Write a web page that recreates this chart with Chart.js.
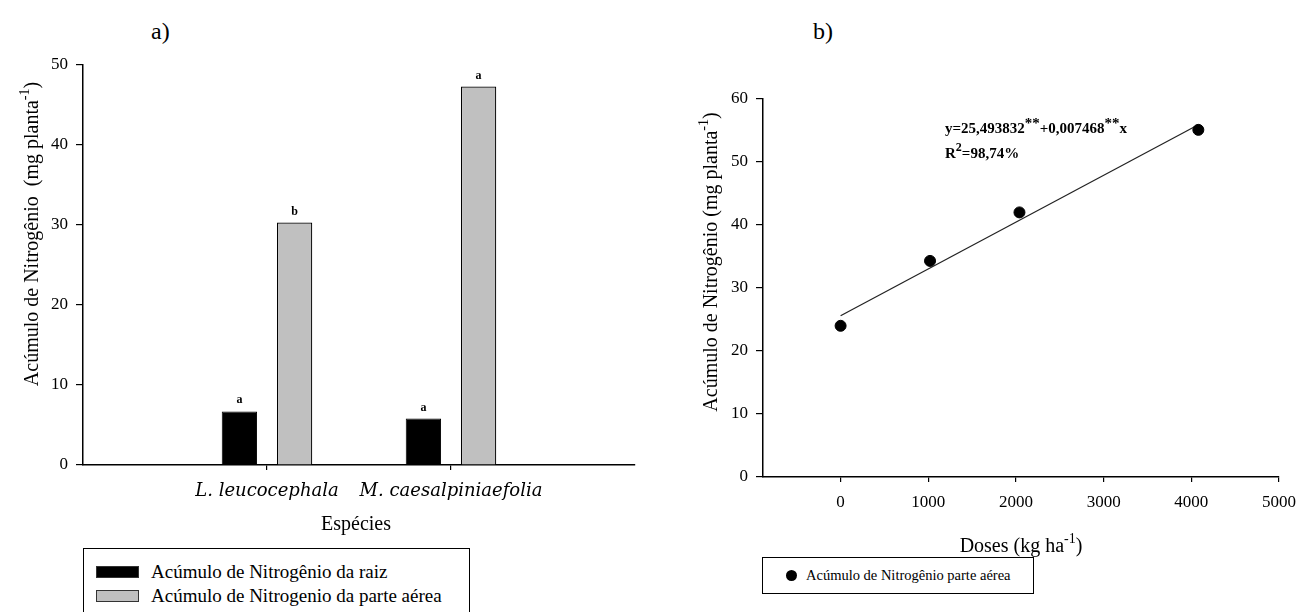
<!DOCTYPE html>
<html>
<head>
<meta charset="utf-8">
<title>Acúmulo de Nitrogênio</title>
<script src="https://cdn.jsdelivr.net/npm/chart.js@4/dist/chart.umd.min.js"></script>
<style>
  html, body { margin: 0; padding: 0; background: #fff; }
  body { width: 1306px; height: 612px; position: relative; overflow: hidden;
         font-family: 'Liberation Serif', 'Times New Roman', serif; color: #000; }
  canvas { position: absolute; top: 0; }
  #chartA { left: 0; }
  #chartB { left: 650px; }
  .panel { position: absolute; top: 16px; font-size: 24px; line-height: 30px; }
  .legend { position: absolute; border: 1.5px solid #000; background: #fff; box-sizing: border-box; }
  .legend .row { display: flex; align-items: center; white-space: nowrap; }
  #legendA { left: 83px; top: 548px; width: 387px; height: 80px; padding: 11px 0 0 12px; font-size: 19px; }
  #legendA .row { height: 24px; }
  #legendA .sw { width: 43px; height: 12px; box-sizing: border-box; margin-right: 12px; }
  #legendB { left: 762px; top: 557px; width: 272px; height: 37px; padding: 0 0 0 23px; font-size: 14.5px; }
  #legendB .row { height: 34px; }
  #legendB .dot { width: 11px; height: 11px; border-radius: 50%; margin-right: 9px; }
</style>
</head>
<body>
<div class="panel" style="left:151px">a)</div>
<div class="panel" style="left:813px">b)</div>
<canvas id="chartA" width="650" height="612"></canvas>
<canvas id="chartB" width="656" height="612"></canvas>
<div class="legend" id="legendA"></div>
<div class="legend" id="legendB"></div>

<script>
// --- a) species ---
const species = ['L. leucocephala', 'M. caesalpiniaefolia'];
const rootN = [6.7, 5.8];
const shootN = [30.3, 47.3];
const rootLetters = ['a', 'a'];
const shootLetters = ['b', 'a'];
const yTicksA = [0, 10, 20, 30, 40, 50];

// --- b) doses ---
const doses = [0, 1020, 2040, 4080];
const shootDose = [24.0, 34.3, 42.0, 55.1];
const trendX = [0, 4080];
const trendY = [25.6, 55.9];
const doseTicks = [0, 1000, 2000, 3000, 4000, 5000];
const yTicksB = [0, 10, 20, 30, 40, 50, 60];

const SERIF = '"Liberation Serif", "Times New Roman", serif';

// draws text made of parts, some raised as superscript; y is the baseline
function drawRich(ctx, parts, x, y, size, weight, align) {
  const sizeOf = p => p.scale ? size * p.scale : (p.sup ? Math.round(size * 0.68) : size);
  const fontFor = p => `${weight} ${sizeOf(p)}px ${SERIF}`;
  let w = 0;
  parts.forEach(p => { ctx.font = fontFor(p); w += ctx.measureText(p.t).width; });
  let cx = align === 'center' ? x - w / 2 : x;
  ctx.textAlign = 'left';
  ctx.textBaseline = 'alphabetic';
  parts.forEach(p => {
    ctx.font = fontFor(p);
    const rise = p.rise !== undefined ? p.rise : (p.sup ? size * 0.45 : 0);
    ctx.fillText(p.t, cx, y - rise);
    cx += ctx.measureText(p.t).width;
  });
}

function tickList(values) {
  return scale => { scale.ticks = values.map(v => ({ value: v })); };
}

const axisStyle = {
  border: { color: '#000', width: 1.5 },
  grid: { drawOnChartArea: false, tickLength: 7, tickColor: '#000', lineWidth: 1.2 },
  ticks: { color: '#000', font: { family: SERIF, size: 17 }, padding: 8, callback: v => String(v) }
};

// --- chart a) ---
const barLetters = [[null, ...rootLetters, null], [null, ...shootLetters, null]];

const textA = {
  id: 'textA',
  afterDraw(chart) {
    const ctx = chart.ctx;
    const area = chart.chartArea;
    ctx.save();
    ctx.fillStyle = '#000';
    // significance letters above bars
    ctx.font = `bold 12px ${SERIF}`;
    ctx.textAlign = 'center';
    ctx.textBaseline = 'alphabetic';
    chart.data.datasets.forEach((ds, i) => {
      chart.getDatasetMeta(i).data.forEach((bar, j) => {
        const t = barLetters[i][j];
        if (t) ctx.fillText(t, bar.x, bar.y - 8);
      });
    });
    // axis titles
    drawRich(ctx, [{ t: 'Espécies' }], (area.left + area.right) / 2 - 3, 530, 20, 'normal', 'center');
    ctx.translate(38, 234);
    ctx.rotate(-Math.PI / 2);
    drawRich(ctx, [{ t: 'Acúmulo de Nitrogênio  (mg planta' }, { t: '-1', sup: true }, { t: ')' }], 0, 0, 20, 'normal', 'center');
    ctx.restore();
  }
};

const chartA = new Chart(document.getElementById('chartA'), {
  type: 'bar',
  data: {
    labels: ['', ...species, ''],
    datasets: [
      { label: 'Acúmulo de Nitrogênio da raiz', data: [null, ...rootN, null],
        backgroundColor: '#000', borderColor: '#000', borderWidth: 1 },
      { label: 'Acúmulo de Nitrogenio da parte aérea', data: [null, ...shootN, null],
        backgroundColor: '#c0c0c0', borderColor: '#000', borderWidth: 1.2 }
    ]
  },
  options: {
    responsive: false,
    animation: false,
    layout: { padding: { left: 0, right: 15, top: 65, bottom: 0 } },
    datasets: { bar: { categoryPercentage: 0.6, barPercentage: 0.64 } },
    plugins: { legend: { display: false }, tooltip: { enabled: false } },
    scales: {
      x: {
        offset: false,
        border: axisStyle.border,
        grid: { offset: false, drawOnChartArea: false, tickLength: 5, lineWidth: 1.2,
                tickColor: c => (c.index === 1 || c.index === 2) ? '#000' : 'rgba(0,0,0,0)' },
        ticks: { color: '#000', autoSkip: false, maxRotation: 0, padding: 11,
                 font: { family: '"DejaVu Serif", serif', style: 'italic', size: 18 } },
        afterFit: s => { s.height = 147; }
      },
      y: {
        min: 0, max: 50,
        border: axisStyle.border, grid: axisStyle.grid, ticks: axisStyle.ticks,
        afterBuildTicks: tickList(yTicksA),
        afterFit: s => { s.width = 83; }
      }
    }
  },
  plugins: [textA]
});

// --- chart b) ---
const textB = {
  id: 'textB',
  afterDraw(chart) {
    const ctx = chart.ctx;
    const area = chart.chartArea;
    ctx.save();
    ctx.fillStyle = '#000';
    const star = { t: '**', scale: 1, rise: 5 };
    drawRich(ctx, [{ t: 'y=25,493832' }, star, { t: '+0,007468' }, star, { t: 'x' }],
      area.left + 182, 133, 15, 'bold', 'left');
    drawRich(ctx, [{ t: 'R' }, { t: '2', sup: true, scale: 0.8 }, { t: '=98,74%' }], area.left + 182, 158, 15, 'bold', 'left');
    drawRich(ctx, [{ t: 'Doses (kg ha' }, { t: '-1', sup: true }, { t: ')' }], (area.left + area.right) / 2, 552, 20, 'normal', 'center');
    ctx.translate(67, 262);
    ctx.rotate(-Math.PI / 2);
    drawRich(ctx, [{ t: 'Acúmulo de Nitrogênio (mg planta' }, { t: '-1', sup: true }, { t: ')' }], 0, 0, 20, 'normal', 'center');
    ctx.restore();
  }
};

const chartB = new Chart(document.getElementById('chartB'), {
  type: 'scatter',
  data: {
    datasets: [
      { label: 'Acúmulo de Nitrogênio parte aérea', inLegend: true,
        data: doses.map((d, i) => ({ x: d, y: shootDose[i] })),
        backgroundColor: '#000', borderColor: '#000', pointRadius: 5.5, order: 1 },
      { label: 'Ajuste linear',
        data: trendX.map((d, i) => ({ x: d, y: trendY[i] })),
        showLine: true, pointRadius: 0, borderColor: '#222', borderWidth: 1.2, order: 2 }
    ]
  },
  options: {
    responsive: false,
    animation: false,
    layout: { padding: { left: 0, right: 20, top: 99, bottom: 0 } },
    plugins: { legend: { display: false }, tooltip: { enabled: false } },
    scales: {
      x: {
        min: -885, max: 5000,
        border: axisStyle.border,
        grid: { drawOnChartArea: false, tickLength: 5, tickColor: '#000', lineWidth: 1.2 },
        ticks: { ...axisStyle.ticks, padding: 10 },
        afterBuildTicks: tickList(doseTicks),
        afterFit: s => { s.height = 135; }
      },
      y: {
        min: 0, max: 60,
        border: axisStyle.border, grid: axisStyle.grid, ticks: axisStyle.ticks,
        afterBuildTicks: tickList(yTicksB),
        afterFit: s => { s.width = 113; }
      }
    }
  },
  plugins: [textB]
});

// --- html legends built from the datasets ---
chartA.data.datasets.forEach(ds => {
  const row = document.createElement('div');
  row.className = 'row';
  const sw = document.createElement('span');
  sw.className = 'sw';
  sw.style.background = ds.backgroundColor;
  sw.style.border = '1.5px solid #333';
  row.appendChild(sw);
  row.appendChild(document.createTextNode(ds.label));
  document.getElementById('legendA').appendChild(row);
});

chartB.data.datasets.filter(ds => ds.inLegend).forEach(ds => {
  const row = document.createElement('div');
  row.className = 'row';
  const dot = document.createElement('span');
  dot.className = 'dot';
  dot.style.background = ds.backgroundColor;
  row.appendChild(dot);
  row.appendChild(document.createTextNode(ds.label));
  document.getElementById('legendB').appendChild(row);
});
</script>
</body>
</html>
